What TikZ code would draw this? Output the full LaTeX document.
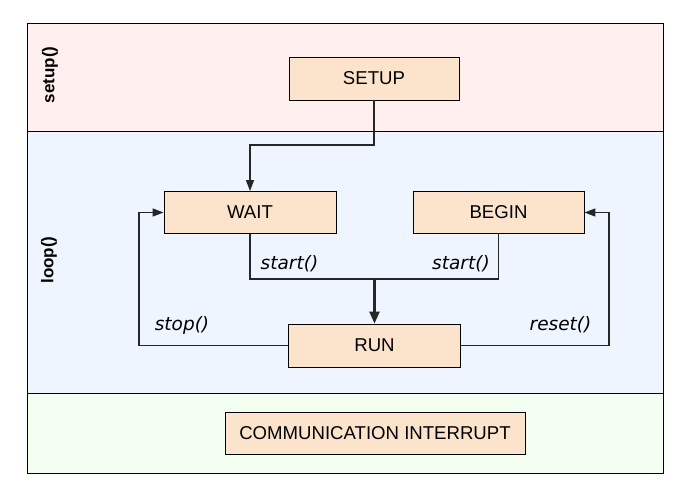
\documentclass[tikz,border=0pt]{standalone}
\usepackage{fontspec}
\setmainfont{Liberation Sans}
\newfontfamily\labfont{DejaVu Sans}
\usetikzlibrary{arrows.meta}
\definecolor{boxfill}{HTML}{FCE4CC}
\definecolor{bandA}{HTML}{FFEFEF}
\definecolor{bandB}{HTML}{EFF5FF}
\definecolor{bandC}{HTML}{F3FFF0}
\tikzset{
  statebox/.style={draw=black, line width=0.9pt, fill=boxfill, minimum height=42pt, inner sep=0pt, font=\fontsize{18.6}{21}\selectfont},
  conn/.style={draw=black!85, line width=1.4pt, -{Triangle[length=11pt,width=8pt]}},
  plain/.style={draw=black!85, line width=1.4pt},
  bigconn/.style={draw=black!85, line width=2.3pt, -{Triangle[length=12pt,width=10pt]}},
  lbl/.style={font=\labfont\itshape\fontsize{18.5}{21}\selectfont, inner sep=0pt},
  bandlbl/.style={rotate=90, font=\bfseries\fontsize{17}{20}\selectfont, inner sep=0pt}
}
\begin{document}
\begin{tikzpicture}[x=1pt,y=-1pt]
\useasboundingbox (0,0) rectangle (691,497);
\fill[white] (0,0) rectangle (691,497);
% bands
\fill[bandA] (27,24) rectangle (663,131.5);
\fill[bandB] (27,131.5) rectangle (663,393);
\fill[bandC] (27,393) rectangle (663,473);
\draw[line width=1pt] (27,24) rectangle (663,473);
\draw[line width=1pt] (27,131.5) -- (663,131.5);
\draw[line width=1pt] (27,393) -- (663,393);
\node[bandlbl] (lsetup) at (50,75) {setup()};
\node[bandlbl] (lloop) at (49,260) {loop()};
% states
\node[statebox, minimum width=170pt, minimum height=43pt] (setup) at (374,78.5) {SETUP};
\node[statebox, minimum width=172pt] (wait) at (250,212.5) {WAIT};
\node[statebox, minimum width=171pt] (begin) at (498.5,212.5) {BEGIN};
\node[statebox, minimum width=172pt, minimum height=43pt] (run) at (374.5,345.5) {RUN};
\node[statebox, minimum width=300pt] (comm) at (375,433) {COMMUNICATION INTERRUPT};
% connectors
\coordinate (j1) at (374,145);
\draw[conn] (setup.south) -- (j1) -| (wait.north);
\coordinate (jn) at (374.5,279);
\draw[plain] (wait.south) |- (jn) -| (begin.south);
\draw[bigconn] (jn) -- (run.north);
\coordinate (sl) at (139,0);
\coordinate (sr) at (609,0);
\draw[conn] (run.west) -| (sl |- wait.west) -- (wait.west);
\draw[conn] (run.east) -| (sr |- begin.west) -- (begin.east);
% labels
\node[lbl] (t1) at (289.5,264) {start()};
\node[lbl] (t2) at (461,264) {start()};
\node[lbl] (t3) at (182,325) {stop()};
\node[lbl] (t4) at (560.5,325) {reset()};
\end{tikzpicture}
\end{document}
